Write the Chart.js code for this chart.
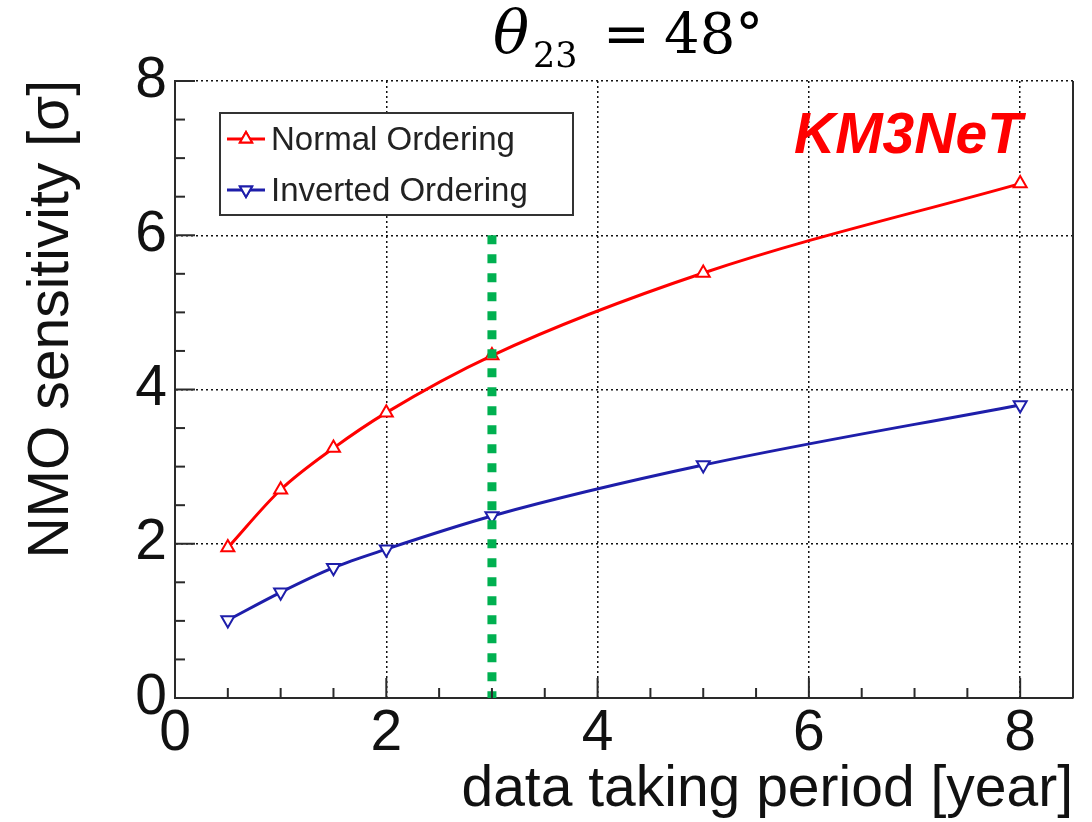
<!DOCTYPE html>
<html>
<head>
<meta charset="utf-8">
<script src="https://cdn.jsdelivr.net/npm/chart.js@4.4.1/dist/chart.umd.min.js"></script>
<style>
  body { margin: 0; background: #fff; }
  #wrap { width: 1092px; height: 822px; }
</style>
</head>
<body>
<div id="wrap"><canvas id="c" width="1092" height="822"></canvas></div>
<script>
// data (theta23 = 48 deg)
const years = [0.5, 1, 1.5, 2, 3, 5, 8];
const normalOrdering = [1.95, 2.70, 3.24, 3.70, 4.44, 5.51, 6.67];
const invertedOrdering = [1.01, 1.37, 1.69, 1.93, 2.36, 3.02, 3.80];
const markerYear = [3, 3];
const markerSigma = [6, 0];
const xTickValues = [0, 2, 4, 6, 8];
const yTickValues = [0, 2, 4, 6, 8];

const RED = "#ff0000";
const BLUE = "#1e1eaa";
const GREEN = "#00b050";
const AXIS = "#2a2a2a";

const pts = (xs, ys) => xs.map((x, i) => ({ x: x, y: ys[i] }));

// inward ticks, frame, legend, labels
const decor = {
  id: "decor",
  afterDatasetsDraw(chart) {
    const ctx = chart.ctx;
    const a = chart.chartArea;
    const xs = chart.scales.x, ys = chart.scales.y;
    ctx.save();
    ctx.strokeStyle = AXIS;
    ctx.lineWidth = 2;
    // right frame line
    ctx.beginPath();
    ctx.moveTo(a.right, a.top);
    ctx.lineTo(a.right, a.bottom);
    ctx.stroke();
    // minor / major ticks pointing inward
    for (let v = 0.5; v <= 8.5; v += 0.5) {
      const px = xs.getPixelForValue(v);
      const len = v % 2 === 0 ? 20 : 10;
      ctx.beginPath();
      ctx.moveTo(px, a.bottom);
      ctx.lineTo(px, a.bottom - len);
      ctx.stroke();
    }
    for (let v = 0.5; v <= 8; v += 0.5) {
      const py = ys.getPixelForValue(v);
      const len = v % 2 === 0 ? 20 : 10;
      ctx.beginPath();
      ctx.moveTo(a.left, py);
      ctx.lineTo(a.left + len, py);
      ctx.stroke();
    }

    // legend box
    ctx.fillStyle = "#fff";
    ctx.fillRect(220, 113, 353, 102);
    ctx.strokeStyle = "#333";
    ctx.lineWidth = 2;
    ctx.strokeRect(220, 113, 353, 102);
    const rows = [
      { label: "Normal Ordering", color: RED, y: 139, base: 150, rot: 0 },
      { label: "Inverted Ordering", color: BLUE, y: 190, base: 201, rot: 180 }
    ];
    rows.forEach(r => {
      ctx.strokeStyle = r.color;
      ctx.lineWidth = 3;
      ctx.beginPath();
      ctx.moveTo(227, r.y);
      ctx.lineTo(265, r.y);
      ctx.stroke();
      ctx.lineWidth = 2;
      ctx.fillStyle = "#fff";
      Chart.helpers.drawPoint(ctx, { pointStyle: "triangle", radius: 7, rotation: r.rot, borderWidth: 2 }, 246, r.y);
      ctx.fill();
      ctx.stroke();
      ctx.fillStyle = "#222";
      ctx.font = '33px "Liberation Sans", Arial, sans-serif';
      ctx.textAlign = "left";
      ctx.textBaseline = "alphabetic";
      ctx.fillText(r.label, 271, r.base);
    });

    // KM3NeT tag
    ctx.fillStyle = RED;
    ctx.font = 'italic bold 57px "Liberation Sans", Arial, sans-serif';
    ctx.textAlign = "right";
    ctx.fillText("KM3NeT", 1022, 153);

    // axis titles
    ctx.fillStyle = "#111";
    ctx.font = '57px "Liberation Sans", Arial, sans-serif';
    ctx.textAlign = "right";
    ctx.fillText("data taking period [year]", 1073, 806);
    ctx.save();
    ctx.translate(68, 80);
    ctx.rotate(-Math.PI / 2);
    ctx.textAlign = "right";
    ctx.fillText("NMO sensitivity [\u03c3]", 0, 0);
    ctx.restore();

    // title: theta_23 = 48 deg
    ctx.fillStyle = "#000";
    ctx.textAlign = "left";
    ctx.font = 'italic 60px "DejaVu Serif", serif';
    ctx.fillText("\u03b8", 493, 53);
    ctx.font = '35px "DejaVu Serif", serif';
    ctx.fillText("23", 533, 67);
    ctx.font = '56px "DejaVu Serif", serif';
    ctx.fillText("=", 603, 53);
    ctx.fillText("48\u00b0", 664, 53);
    ctx.restore();
  }
};

const tickFont = { family: '"Liberation Sans", Arial, sans-serif', size: 57 };

new Chart(document.getElementById("c"), {
  type: "line",
  data: {
    datasets: [
      {
        label: "3 years",
        data: pts(markerYear, markerSigma),
        borderColor: GREEN,
        borderWidth: 9,
        borderDash: [9, 10],
        borderCapStyle: "butt",
        pointRadius: 0,
        order: 0
      },
      {
        label: "Normal Ordering",
        data: pts(years, normalOrdering),
        borderColor: RED,
        backgroundColor: "#fff",
        borderWidth: 3,
        cubicInterpolationMode: "monotone",
        pointStyle: "triangle",
        pointRadius: 7.5,
        pointBorderWidth: 2,
        order: 1
      },
      {
        label: "Inverted Ordering",
        data: pts(years, invertedOrdering),
        borderColor: BLUE,
        backgroundColor: "#fff",
        borderWidth: 3,
        cubicInterpolationMode: "monotone",
        pointStyle: "triangle",
        pointRotation: 180,
        pointRadius: 7.5,
        pointBorderWidth: 2,
        order: 1
      }
    ]
  },
  options: {
    responsive: false,
    animation: false,
    layout: { padding: { top: 81, right: 19, left: 0, bottom: 0 } },
    plugins: { legend: { display: false }, tooltip: { enabled: false }, title: { display: false } },
    scales: {
      x: {
        type: "linear",
        min: 0,
        max: 8.5,
        afterBuildTicks: s => { s.ticks = xTickValues.map(v => ({ value: v })); },
        afterFit: s => { s.height = 124; },
        ticks: { color: "#111", font: tickFont, padding: 2, autoSkip: false, maxRotation: 0 },
        grid: { color: "#111", lineWidth: 1.5, drawTicks: false },
        border: { display: true, color: AXIS, width: 2, dash: [2, 3] }
      },
      y: {
        type: "linear",
        min: 0,
        max: 8,
        afterBuildTicks: s => { s.ticks = yTickValues.map(v => ({ value: v })); },
        afterFit: s => { s.width = 175; },
        ticks: { color: "#111", font: tickFont, padding: 8, autoSkip: false },
        grid: { color: "#111", lineWidth: 1.5, drawTicks: false },
        border: { display: true, color: AXIS, width: 2, dash: [2, 3] }
      }
    }
  },
  plugins: [decor]
});
</script>
</body>
</html>
